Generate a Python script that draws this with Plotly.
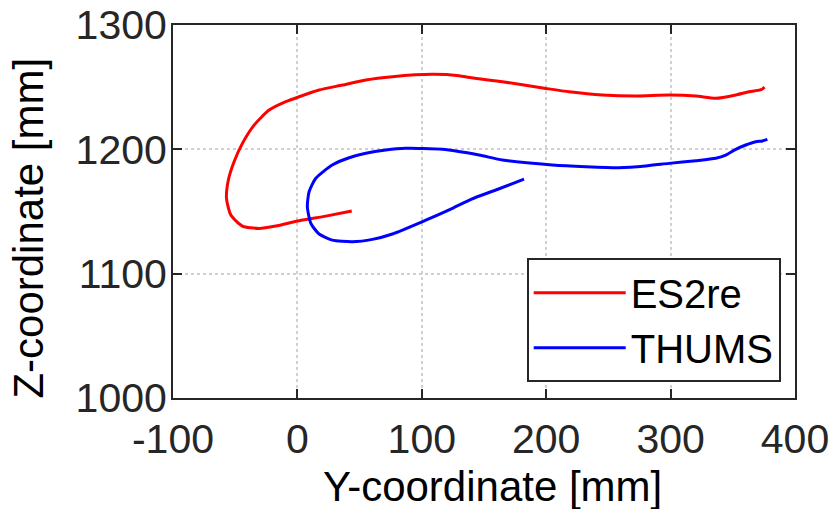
import plotly.graph_objects as go

# ES2re trajectory (Y, Z in mm)
es2re_y = [43.7, 22.8, 1.4, -17.4, -30.8, -44.2, -53.5, -57.0, -55.5, -50.9, -44.2, -34.8,
           -22.7, -9.3, 1.4, 17.4, 36.2, 55.0, 76.4, 108.5, 130.0, 140.0, 164.8, 199.7,
           218.4, 245.0, 272.0, 298.8, 320.3, 336.3, 352.4, 363.0, 371.2, 373.8, 375.5]
es2re_z = [1150.4, 1146.3, 1142.6, 1138.3, 1136.4, 1138.3, 1147.1, 1160.6, 1175.3, 1190.0,
           1204.8, 1219.5, 1231.6, 1238.3, 1242.3, 1247.7, 1251.7, 1255.8, 1258.4, 1260.3,
           1259.2, 1257.5, 1254.4, 1249.0, 1246.3, 1243.7, 1242.9, 1243.7, 1242.9, 1241.0,
           1243.7, 1246.3, 1247.6, 1248.5, 1250.0]

# THUMS trajectory (Y, Z in mm)
thums_y = [182.2, 159.5, 140.0, 124.6, 103.2, 76.4, 60.3, 44.2, 28.0, 17.4, 10.8, 8.0, 9.4,
           14.8, 28.0, 41.6, 55.0, 71.0, 87.0, 116.5, 146.0, 164.8, 205.0, 231.8, 258.6,
           280.0, 298.8, 320.3, 336.3, 344.4, 352.4, 360.4, 368.5, 373.8, 377.8]
thums_z = [1176.0, 1167.3, 1160.0, 1152.5, 1143.0, 1131.9, 1127.6, 1125.7, 1127.0, 1131.9,
           1140.5, 1153.8, 1165.9, 1176.7, 1187.4, 1193.2, 1196.8, 1199.4, 1200.8, 1200.0,
           1195.4, 1191.4, 1187.4, 1186.0, 1185.2, 1186.6, 1188.7, 1190.8, 1192.8, 1195.4,
           1200.0, 1203.5, 1206.1, 1206.7, 1208.0]

x_ticks = [-100, 0, 100, 200, 300, 400]
x_labels = ["-100", "0", "100", "200", "300", "400"]
y_ticks = [1000, 1100, 1200, 1300]
y_labels = ["1000", "1100", "1200", "1300"]
x_title = "Y-coordinate [mm]"
y_title = "Z-coordinate [mm]"

FONT = "Liberation Sans, Arial, sans-serif"

fig = go.Figure()
fig.add_trace(go.Scatter(x=es2re_y, y=es2re_z, mode="lines", name="ES2re",
                         line=dict(color="#ff0000", width=3, shape="spline", smoothing=0.6)))
fig.add_trace(go.Scatter(x=thums_y, y=thums_z, mode="lines", name="THUMS",
                         line=dict(color="#0000ff", width=3, shape="spline", smoothing=0.6)))

axis_common = dict(
    showline=True, linecolor="#262626", linewidth=2, mirror="ticks",
    ticks="inside", ticklen=9, tickwidth=2, tickcolor="#262626",
    showgrid=True, gridcolor="#d0d0d0", griddash="dot", gridwidth=1.5,
    zeroline=False, automargin=False,
    tickfont=dict(family=FONT, size=41, color="#262626"),
)

fig.update_layout(
    width=831, height=509,
    margin=dict(l=173, r=36, t=25, b=111),
    paper_bgcolor="white", plot_bgcolor="white",
    showlegend=True,
    legend=dict(x=0.977, y=0.375, xanchor="right", yanchor="top",
                bgcolor="white", bordercolor="#262626", borderwidth=2,
                font=dict(family=FONT, size=40, color="black"),
                itemwidth=92, tracegroupgap=0),
    xaxis=dict(range=[-100, 400], tickvals=x_ticks, ticktext=x_labels,
               ticklabelstandoff=4, **axis_common),
    yaxis=dict(range=[1000, 1300], tickvals=y_ticks, ticktext=y_labels,
               ticklabelstandoff=-4, **axis_common),
    annotations=[
        dict(text=x_title, xref="paper", yref="paper", x=0.513, y=-0.236,
             xanchor="center", yanchor="middle", showarrow=False,
             font=dict(family=FONT, size=42, color="black")),
        dict(text=y_title, xref="paper", yref="paper", x=-0.232, y=0.456,
             xanchor="center", yanchor="middle", showarrow=False, textangle=-90,
             font=dict(family=FONT, size=42, color="black")),
    ],
)

fig.write_html("out.html", config={"displayModeBar": False},
               post_script="document.body.style.margin='0';document.body.style.overflow='hidden';")
